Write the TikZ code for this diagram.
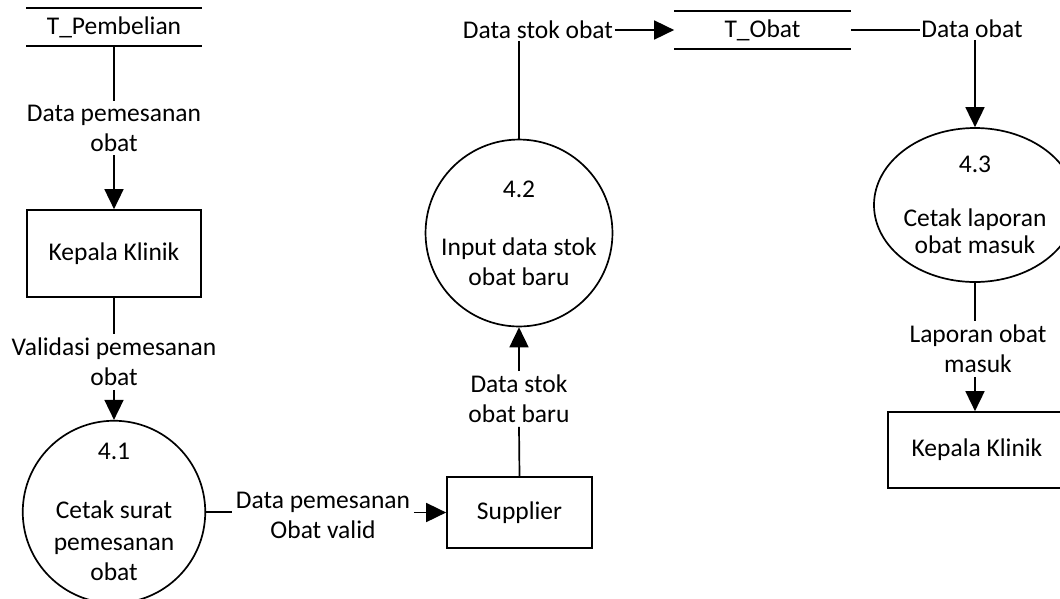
\documentclass[tikz,border=0pt]{standalone}
\usepackage{fontspec}
\setmainfont{Carlito}
\usetikzlibrary{arrows.meta,shapes.geometric}
\begin{document}
\begin{tikzpicture}[x=1pt,y=-1pt, line width=1.7pt,
  every node/.style={font=\fontsize{25.5}{30}\selectfont},
  ent/.style={draw, minimum width=174pt, minimum height=87pt, inner sep=0pt},
  store/.style={minimum width=174pt, minimum height=36pt, inner sep=0pt},
  proc/.style={draw, circle, minimum size=174pt, inner sep=0pt, align=center},
  lbl/.style={align=center, inner sep=3pt},
  arr/.style={-{Triangle[length=20pt,width=19pt]}}]
\clip (0,0) rectangle (1060,598);

% data stores
\node[store] (s1) at (114,27) {T\_Pembelian};
\draw (s1.north west) -- (s1.north east) (s1.south west) -- (s1.south east);
\node[store, minimum width=175pt] (s2) at (762.5,30) {T\_Obat};
\draw (s2.north west) -- (s2.north east) (s2.south west) -- (s2.south east);

% entities
\node[ent] (k1) at (114,253.5) {Kepala Klinik};
\node[ent, minimum width=145pt, minimum height=71pt] (sup) at (519.5,512.5) {Supplier};
\node[ent, minimum width=200pt, minimum height=76pt] (k2) at (988,450) {\hspace*{-22pt}Kepala Klinik};

% processes
\node[proc] (p1) at (114,512) {4.1\\[29pt]Cetak surat\\[2pt]pemesanan\\obat};
\node[proc] (p2) at (519,233) {4.2\\[28pt]Input data stok\\obat baru};
\node[draw, ellipse, minimum width=172pt, minimum height=154pt, inner sep=0pt, align=center] (p3) at (975,205) {4.3\\[24pt]Cetak laporan\\[-3pt]obat masuk};

% labels
\node[lbl] (l1) at (114,128) {Data pemesanan\\obat};
\node[lbl] (l2) at (114,362) {Validasi pemesanan\\obat};
\node[lbl] (l3) at (323,515) {Data pemesanan\\Obat valid};
\node[lbl] (l4) at (519,399) {Data stok\\obat baru};
\node[lbl, inner sep=1pt] (l5) at (538,30) {Data stok obat};
\node[lbl, inner sep=1pt] (l6) at (972,29) {Data obat};
\node[lbl] (l7) at (978,349) {Laporan obat\\masuk};

% connectors
\draw (s1.south) -- (l1.north);
\draw[arr] (l1.south) -- (k1.north);
\draw (k1.south) -- (l2.north);
\draw[arr] (l2.south) -- (p1.north);
\draw (p1.east) -- (p1.east -| l3.west);
\draw[arr] (sup.west -| l3.east) -- (sup.west);
\draw (sup.north) -- (l4.south);
\draw[arr] (l4.north) -- (p2.south);
\draw (p2.north) -- (p2.north |- l5.south);
\draw[arr] (l5.east) -- (s2.west);
\draw (s2.east) -- (s2.east -| l6.west);
\draw[arr] (l6.south -| p3.north) -- (p3.north);
\draw (p3.south) -- (p3.south |- l7.north);
\draw[arr] (l7.south -| p3.south) -- (k2.north -| p3.south);
\end{tikzpicture}
\end{document}
